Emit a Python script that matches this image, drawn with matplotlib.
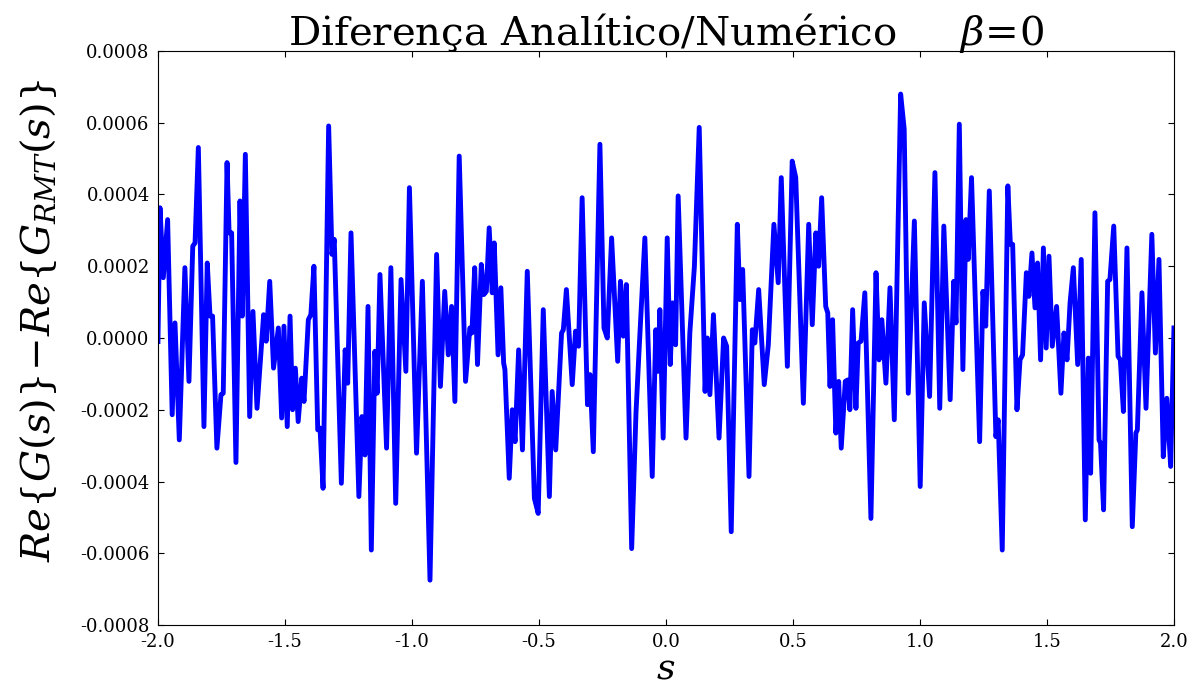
import numpy as np
import matplotlib
matplotlib.use("Agg")
import matplotlib.pyplot as plt
from matplotlib.ticker import FormatStrFormatter, MultipleLocator

# Values, difference in units of 1e-4
s = [
    -2.000, -1.992, -1.979, -1.962, -1.944, -1.933, -1.916, -1.894, -1.878, -1.863,
    -1.854, -1.841, -1.819, -1.806, -1.795, -1.785, -1.768, -1.752, -1.743, -1.728,
    -1.720, -1.710, -1.693, -1.677, -1.668, -1.656, -1.639, -1.626, -1.610, -1.584,
    -1.574, -1.560, -1.545, -1.526, -1.513,
    -1.504, -1.491, -1.480, -1.470, -1.459, -1.448, -1.434, -1.425, -1.408, -1.398,
    -1.386, -1.371, -1.362, -1.350, -1.328, -1.315, -1.306, -1.278, -1.263, -1.253,
    -1.240, -1.209, -1.197, -1.185, -1.173, -1.160, -1.146, -1.137, -1.126, -1.100,
    -1.083, -1.064, -1.043, -1.024, -1.010,
    -0.982, -0.959, -0.929, -0.903, -0.888, -0.871, -0.857, -0.844, -0.831, -0.814,
    -0.789, -0.772, -0.764, -0.753, -0.742, -0.727, -0.717, -0.707, -0.696, -0.684,
    -0.676, -0.661, -0.650, -0.639, -0.634, -0.617, -0.605, -0.594, -0.580, -0.565,
    -0.546, -0.518,
    -0.503, -0.483, -0.459, -0.448, -0.434, -0.411, -0.404, -0.392, -0.369, -0.356,
    -0.344, -0.330, -0.309, -0.299, -0.286, -0.260, -0.244, -0.231, -0.214, -0.190,
    -0.179, -0.168, -0.156, -0.135, -0.118, -0.105, -0.083, -0.054, -0.040, -0.031,
    -0.024,
    -0.011, 0.005, 0.017, 0.026, 0.038, 0.048, 0.079, 0.094, 0.112, 0.131,
    0.154, 0.163, 0.173, 0.187, 0.209, 0.227, 0.239, 0.257, 0.281, 0.291,
    0.302, 0.327, 0.340, 0.350, 0.365, 0.387, 0.403, 0.425, 0.442, 0.454,
    0.478, 0.497, 0.511, 0.541, 0.562, 0.576, 0.590, 0.601, 0.613, 0.629,
    0.637, 0.646, 0.656, 0.669, 0.680, 0.690, 0.706, 0.715, 0.724, 0.735,
    0.748, 0.757, 0.768, 0.783, 0.807, 0.827, 0.839, 0.850, 0.866, 0.882,
    0.899, 0.924, 0.938, 0.954,
    0.978, 1.001, 1.017, 1.038, 1.059, 1.078, 1.094, 1.119, 1.133, 1.142,
    1.155, 1.169, 1.181, 1.190, 1.203, 1.235, 1.248, 1.259, 1.273, 1.299,
    1.308, 1.324, 1.346, 1.356, 1.365, 1.382, 1.394, 1.404, 1.419, 1.429,
    1.441,
    1.453, 1.463, 1.475, 1.486, 1.497, 1.508, 1.521, 1.538, 1.555, 1.567,
    1.579, 1.591, 1.604, 1.621, 1.635, 1.651, 1.663, 1.672, 1.689, 1.705,
    1.711, 1.723, 1.739, 1.748, 1.763, 1.780, 1.789, 1.801, 1.815, 1.836,
    1.850, 1.856, 1.874, 1.890, 1.913, 1.927, 1.941, 1.958, 1.972, 1.987,
    2.000,
]
diff_e4 = [
    -0.10, 3.63, 1.68, 3.30, -2.14, 0.42, -2.84, 1.96, -1.21, 2.56,
    2.65, 5.31, -2.47, 2.09, 0.61, 0.61, -3.07, -1.58, -1.54, 4.89,
    2.93, 2.93, -3.47, 3.82, 0.61, 5.12, -2.19, 0.74, -1.96, 0.65,
    -0.09, 1.58, -0.84, 0.28, -2.23,
    0.33, -2.47, 0.61, -2.00, -0.84, -2.33, -1.12, -1.77, 0.51, 0.65,
    2.00, -2.56, -2.51, -4.19, 5.91, 2.33, 2.75, -4.05, -0.33, -1.26,
    2.93, -4.42, -2.19, -3.26, 0.88, -5.91, -0.37, -1.54, 1.77, -3.07,
    1.96, -4.61, 1.63, -0.93, 4.19,
    -3.21, 1.58, -6.75, 2.33, -1.35, 1.30, -0.47, 0.88, -1.77, 5.07,
    -1.21, 0.28, 0.14, 1.96, -0.74, 2.05, 1.21, 1.30, 3.07, 1.26,
    2.65, -0.47, 1.40, -0.70, -0.88, -3.91, -2.00, -2.89, -0.33, -3.12,
    1.86, -4.47,
    -4.89, 0.79, -4.42, -1.49, -3.12, 0.14, 0.23, 1.35, -1.30, 0.19,
    -0.23, 3.91, -1.86, -1.02, -3.17, 5.40, 0.28, 0.00, 2.79, -0.65,
    1.58, 0.05, 1.49, -5.87, -2.09, -0.23, 2.79, -3.86, 0.23, -0.93,
    0.79,
    -2.79, 2.79, -0.74, 0.98, -0.19, 3.96, -2.79, 0.14, 2.00, 5.87,
    -1.49, 0.00, -1.58, 0.65, -2.79, 0.00, -0.23, -5.40, 3.17, 1.07,
    1.91, -3.86, 0.23, -0.14, 1.35, -1.30, -0.19, 3.17, 1.54, 4.47,
    -0.79, 4.93, 4.47, -1.82, 3.17, 0.37, 2.93, 2.00, 3.91, 0.88,
    0.70, -1.35, 0.51, -2.65, -1.21, -3.07, -1.21, -1.17, -2.00, 0.79,
    -1.96, -0.14, -0.09, 1.26, -5.03, 1.82, -0.61, 0.51, -1.26, 1.40,
    -2.28, 6.80, 5.82, -1.54,
    3.26, -4.14, 0.98, -1.63, 4.61, -1.96, 3.12, -1.72, 1.58, 0.42,
    5.96, -0.88, 3.30, 2.19, 4.47, -2.89, 1.30, 0.33, 4.10, -2.75,
    -2.28, -5.91, 4.24, 2.61, 2.61, -2.00, -0.61, -0.47, 1.82, 1.16,
    2.37,
    0.84, 2.09, -0.61, 2.51, -0.28, 2.28, -0.23, 0.88, -1.54, 0.14,
    -0.61, 0.98, 1.96, -0.74, 2.19, -5.07, -0.56, -3.77, 3.49, -2.84,
    -2.93, -4.79, 1.58, 1.63, 3.12, -0.51, -0.61, -2.05, 2.51, -5.26,
    -2.65, -2.56, 1.26, -1.96, 2.89, -0.42, 2.19, -3.31, -1.68, -3.58,
    0.28,
]

plt.rcParams['font.family'] = 'DejaVu Serif'
plt.rcParams['mathtext.fontset'] = 'dejavuserif'

fig = plt.figure(figsize=(11.94, 6.86), dpi=100, facecolor='white')
ax = fig.add_axes([0.1323, 0.0889, 0.8509, 0.8368])

ax.plot(s, np.array(diff_e4) * 1e-4, color='#0000ff', linewidth=3.5,
        solid_joinstyle='round')

ax.set_xlim(-2, 2)
ax.set_ylim(-0.0008, 0.0008)
ax.xaxis.set_major_locator(MultipleLocator(0.5))
ax.yaxis.set_major_locator(MultipleLocator(0.0002))
ax.xaxis.set_major_formatter(FormatStrFormatter('%.1f'))
ax.yaxis.set_major_formatter(FormatStrFormatter('%.4f'))
ax.tick_params(direction='in', top=True, right=True, length=4, labelsize=13, pad=6)

ax.set_title(u'Diferen\u00e7a Anal\u00edtico/Num\u00e9rico     $\\beta\\!=\\!0$', fontsize=29, pad=4)
ax.set_xlabel('$s$', fontsize=26, labelpad=0)
ax.set_ylabel('$Re\\left\\{G(s)\\right\\}\\!-\\!Re\\left\\{G_{RMT}(s)\\right\\}$', fontsize=29)
ax.yaxis.set_label_coords(-0.097, 0.53)

fig.savefig('out.png', dpi=100, facecolor='white')
